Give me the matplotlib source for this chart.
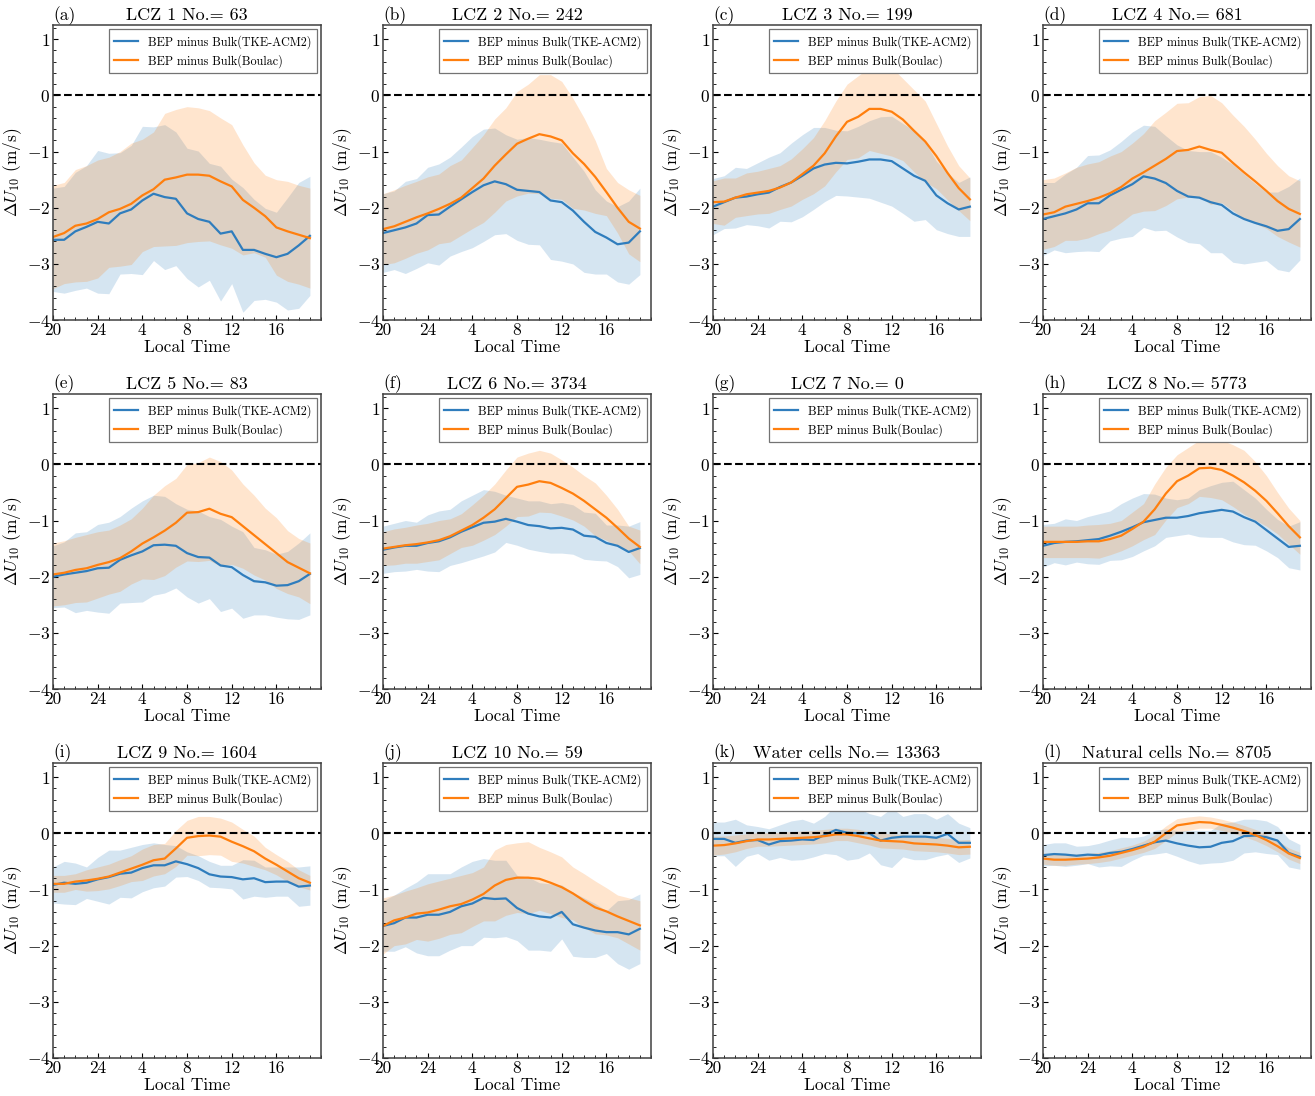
import numpy as np
import matplotlib
matplotlib.use("Agg")
import matplotlib.pyplot as plt
from matplotlib.ticker import MultipleLocator, FixedLocator

plt.rcParams.update({
    "font.family": "serif",
    "font.serif": ["cmr10"],
    "mathtext.fontset": "cm",
    "axes.formatter.use_mathtext": True,
})

# hourly local time, 20 LT through 19 LT next day
hours = list(range(20, 44))
tick_pos = [20, 24, 28, 32, 36, 40]
tick_labels = ["20", "24", "4", "8", "12", "16"]

panel_tags = ["(a)", "(b)", "(c)", "(d)", "(e)", "(f)", "(g)", "(h)", "(i)", "(j)", "(k)", "(l)"]
panel_names = ["LCZ 1", "LCZ 2", "LCZ 3", "LCZ 4", "LCZ 5", "LCZ 6", "LCZ 7", "LCZ 8",
               "LCZ 9", "LCZ 10", "Water cells", "Natural cells"]
cell_counts = [63, 242, 199, 681, 83, 3734, 0, 5773, 1604, 59, 13363, 8705]

# BEP minus Bulk (TKE-ACM2): mean and spread per panel
acm2_mean = [
    [-2.57, -2.57, -2.42, -2.34, -2.25, -2.28, -2.10, -2.03, -1.87, -1.75, -1.81, -1.84, -2.10, -2.20, -2.25, -2.46, -2.42, -2.75, -2.75, -2.82, -2.88, -2.82, -2.67, -2.50],
    [-2.45, -2.40, -2.35, -2.28, -2.13, -2.12, -1.98, -1.85, -1.72, -1.60, -1.53, -1.58, -1.68, -1.70, -1.72, -1.87, -1.90, -2.05, -2.25, -2.43, -2.53, -2.65, -2.62, -2.42],
    [-1.98, -1.90, -1.82, -1.80, -1.76, -1.73, -1.63, -1.55, -1.43, -1.30, -1.23, -1.20, -1.21, -1.18, -1.14, -1.14, -1.17, -1.30, -1.43, -1.52, -1.78, -1.92, -2.03, -1.98],
    [-2.20, -2.15, -2.10, -2.03, -1.92, -1.92, -1.78, -1.68, -1.58, -1.44, -1.48, -1.56, -1.70, -1.80, -1.82, -1.90, -1.95, -2.10, -2.20, -2.27, -2.33, -2.41, -2.38, -2.20],
    [-2.00, -1.96, -1.93, -1.90, -1.85, -1.84, -1.70, -1.62, -1.55, -1.44, -1.43, -1.45, -1.58, -1.65, -1.66, -1.80, -1.83, -1.97, -2.08, -2.10, -2.16, -2.15, -2.08, -1.95],
    [-1.52, -1.48, -1.45, -1.45, -1.40, -1.37, -1.30, -1.20, -1.12, -1.04, -1.02, -0.97, -1.02, -1.08, -1.10, -1.14, -1.13, -1.16, -1.27, -1.29, -1.40, -1.45, -1.56, -1.49],
    [],
    [-1.45, -1.40, -1.38, -1.37, -1.35, -1.33, -1.27, -1.20, -1.12, -1.03, -0.99, -0.95, -0.95, -0.92, -0.87, -0.84, -0.81, -0.84, -0.94, -1.02, -1.17, -1.32, -1.47, -1.45],
    [-0.92, -0.88, -0.90, -0.88, -0.82, -0.78, -0.72, -0.70, -0.62, -0.57, -0.57, -0.50, -0.55, -0.62, -0.73, -0.77, -0.78, -0.82, -0.80, -0.87, -0.86, -0.86, -0.95, -0.93],
    [-1.65, -1.60, -1.50, -1.50, -1.45, -1.45, -1.40, -1.30, -1.25, -1.15, -1.17, -1.16, -1.33, -1.43, -1.48, -1.50, -1.40, -1.62, -1.68, -1.73, -1.76, -1.76, -1.80, -1.70],
    [-0.10, -0.10, -0.17, -0.13, -0.12, -0.20, -0.14, -0.13, -0.11, -0.12, -0.03, 0.06, 0.01, 0.00, 0.00, -0.13, -0.08, -0.06, -0.06, -0.06, -0.08, -0.01, -0.17, -0.17],
    [-0.39, -0.37, -0.38, -0.40, -0.38, -0.39, -0.35, -0.33, -0.28, -0.22, -0.16, -0.13, -0.18, -0.22, -0.25, -0.24, -0.17, -0.14, -0.05, -0.04, -0.07, -0.13, -0.35, -0.42],
]
acm2_std = [
    [0.92, 0.95, 1.05, 1.09, 1.27, 1.25, 1.08, 1.14, 1.32, 1.19, 1.29, 1.19, 1.16, 1.21, 1.04, 1.20, 0.93, 1.11, 0.90, 0.81, 0.80, 1.00, 1.12, 1.06],
    [0.70, 0.70, 0.82, 0.80, 0.85, 0.90, 0.88, 0.93, 0.99, 1.00, 0.95, 0.88, 0.90, 0.95, 0.94, 1.05, 1.05, 0.95, 0.90, 0.75, 0.65, 0.67, 0.74, 0.77],
    [0.50, 0.47, 0.54, 0.50, 0.56, 0.63, 0.61, 0.70, 0.73, 0.73, 0.66, 0.58, 0.58, 0.63, 0.69, 0.76, 0.80, 0.80, 0.81, 0.69, 0.61, 0.54, 0.48, 0.53],
    [0.65, 0.60, 0.70, 0.75, 0.85, 0.86, 0.81, 0.86, 0.93, 0.91, 0.93, 0.84, 0.82, 0.82, 0.82, 0.90, 0.85, 0.87, 0.80, 0.70, 0.61, 0.69, 0.76, 0.73],
    [0.55, 0.58, 0.71, 0.70, 0.78, 0.81, 0.77, 0.84, 0.90, 0.89, 0.86, 0.75, 0.78, 0.82, 0.73, 0.82, 0.73, 0.77, 0.60, 0.58, 0.56, 0.60, 0.68, 0.73],
    [0.42, 0.43, 0.45, 0.42, 0.50, 0.54, 0.50, 0.55, 0.57, 0.59, 0.54, 0.42, 0.42, 0.43, 0.45, 0.44, 0.45, 0.44, 0.42, 0.42, 0.32, 0.37, 0.46, 0.47],
    [],
    [0.38, 0.35, 0.41, 0.37, 0.42, 0.45, 0.44, 0.50, 0.52, 0.51, 0.46, 0.35, 0.32, 0.32, 0.42, 0.46, 0.49, 0.54, 0.49, 0.42, 0.37, 0.34, 0.37, 0.43],
    [0.32, 0.38, 0.37, 0.28, 0.39, 0.48, 0.42, 0.45, 0.42, 0.40, 0.37, 0.28, 0.22, 0.22, 0.23, 0.20, 0.21, 0.35, 0.32, 0.27, 0.26, 0.26, 0.35, 0.35],
    [0.45, 0.50, 0.52, 0.63, 0.73, 0.73, 0.68, 0.70, 0.75, 0.70, 0.69, 0.68, 0.58, 0.65, 0.60, 0.60, 0.48, 0.57, 0.53, 0.48, 0.38, 0.56, 0.62, 0.62],
    [0.30, 0.30, 0.42, 0.28, 0.24, 0.28, 0.29, 0.35, 0.36, 0.30, 0.33, 0.44, 0.49, 0.45, 0.35, 0.43, 0.53, 0.36, 0.41, 0.41, 0.33, 0.36, 0.35, 0.27],
    [0.19, 0.20, 0.21, 0.17, 0.16, 0.21, 0.23, 0.26, 0.20, 0.17, 0.21, 0.21, 0.23, 0.27, 0.30, 0.29, 0.35, 0.34, 0.30, 0.29, 0.29, 0.25, 0.25, 0.22],
]

# BEP minus Bulk (Boulac): mean and spread per panel
boulac_mean = [
    [-2.52, -2.45, -2.32, -2.28, -2.20, -2.08, -2.02, -1.93, -1.78, -1.67, -1.50, -1.46, -1.41, -1.41, -1.43, -1.53, -1.62, -1.86, -2.00, -2.15, -2.35, -2.42, -2.48, -2.54],
    [-2.38, -2.33, -2.25, -2.17, -2.10, -2.02, -1.93, -1.82, -1.65, -1.48, -1.25, -1.05, -0.86, -0.77, -0.69, -0.73, -0.80, -1.03, -1.22, -1.45, -1.72, -2.00, -2.25, -2.37],
    [-1.90, -1.89, -1.82, -1.76, -1.73, -1.70, -1.64, -1.55, -1.40, -1.25, -1.03, -0.73, -0.47, -0.38, -0.24, -0.24, -0.29, -0.43, -0.63, -0.82, -1.08, -1.38, -1.65, -1.85],
    [-2.12, -2.08, -1.98, -1.93, -1.88, -1.82, -1.74, -1.63, -1.48, -1.37, -1.25, -1.13, -0.99, -0.97, -0.91, -0.97, -1.02, -1.20, -1.37, -1.53, -1.70, -1.88, -2.02, -2.11],
    [-1.96, -1.93, -1.88, -1.85, -1.79, -1.74, -1.67, -1.55, -1.41, -1.30, -1.18, -1.04, -0.86, -0.85, -0.79, -0.88, -0.94, -1.10, -1.26, -1.42, -1.58, -1.74, -1.84, -1.94],
    [-1.50, -1.47, -1.44, -1.42, -1.39, -1.35, -1.28, -1.18, -1.08, -0.95, -0.80, -0.60, -0.40, -0.36, -0.30, -0.33, -0.42, -0.52, -0.65, -0.80, -0.95, -1.13, -1.32, -1.47],
    [],
    [-1.38, -1.38, -1.38, -1.38, -1.37, -1.37, -1.33, -1.27, -1.15, -1.02, -0.80, -0.52, -0.30, -0.20, -0.07, -0.06, -0.10, -0.20, -0.32, -0.47, -0.65, -0.87, -1.10, -1.30],
    [-0.90, -0.90, -0.86, -0.84, -0.81, -0.77, -0.70, -0.63, -0.56, -0.48, -0.45, -0.27, -0.08, -0.05, -0.04, -0.06, -0.15, -0.23, -0.32, -0.45, -0.56, -0.68, -0.80, -0.88],
    [-1.65, -1.55, -1.50, -1.43, -1.41, -1.36, -1.30, -1.26, -1.18, -1.08, -0.93, -0.83, -0.79, -0.79, -0.81, -0.88, -0.96, -1.07, -1.20, -1.32, -1.39, -1.48, -1.56, -1.64],
    [-0.22, -0.21, -0.18, -0.14, -0.11, -0.11, -0.10, -0.09, -0.08, -0.07, -0.05, -0.02, -0.02, -0.05, -0.09, -0.13, -0.14, -0.15, -0.18, -0.19, -0.20, -0.22, -0.25, -0.24],
    [-0.45, -0.47, -0.47, -0.46, -0.45, -0.43, -0.40, -0.35, -0.30, -0.24, -0.15, 0.00, 0.14, 0.17, 0.20, 0.19, 0.15, 0.10, 0.04, -0.03, -0.12, -0.23, -0.36, -0.44],
]
boulac_std = [
    [0.92, 0.90, 1.00, 1.03, 1.05, 0.98, 1.02, 1.08, 1.00, 1.02, 1.18, 1.21, 1.21, 1.19, 1.16, 1.13, 1.10, 0.98, 0.80, 0.73, 0.85, 0.89, 0.88, 0.89],
    [0.63, 0.65, 0.65, 0.64, 0.65, 0.62, 0.68, 0.67, 0.72, 0.78, 0.83, 0.83, 0.93, 0.97, 1.06, 1.10, 1.05, 0.98, 0.82, 0.65, 0.42, 0.45, 0.57, 0.59],
    [0.38, 0.42, 0.35, 0.38, 0.38, 0.40, 0.39, 0.42, 0.45, 0.50, 0.58, 0.63, 0.67, 0.73, 0.74, 0.79, 0.79, 0.73, 0.73, 0.72, 0.58, 0.48, 0.40, 0.38],
    [0.62, 0.61, 0.60, 0.65, 0.66, 0.64, 0.66, 0.63, 0.63, 0.69, 0.80, 0.83, 0.85, 0.84, 0.89, 0.97, 0.89, 0.85, 0.82, 0.75, 0.67, 0.63, 0.59, 0.59],
    [0.56, 0.57, 0.58, 0.60, 0.59, 0.57, 0.59, 0.58, 0.63, 0.75, 0.80, 0.79, 0.86, 0.88, 0.92, 0.93, 0.84, 0.75, 0.71, 0.64, 0.63, 0.56, 0.52, 0.54],
    [0.30, 0.32, 0.32, 0.34, 0.34, 0.35, 0.31, 0.30, 0.36, 0.40, 0.45, 0.50, 0.53, 0.56, 0.55, 0.53, 0.50, 0.47, 0.45, 0.47, 0.40, 0.33, 0.22, 0.30],
    [],
    [0.28, 0.28, 0.28, 0.28, 0.29, 0.30, 0.28, 0.27, 0.30, 0.32, 0.45, 0.47, 0.47, 0.50, 0.50, 0.53, 0.53, 0.55, 0.57, 0.52, 0.45, 0.37, 0.32, 0.30],
    [0.15, 0.15, 0.14, 0.19, 0.21, 0.22, 0.23, 0.23, 0.28, 0.28, 0.27, 0.32, 0.31, 0.35, 0.34, 0.33, 0.35, 0.30, 0.27, 0.20, 0.18, 0.18, 0.15, 0.13],
    [0.50, 0.45, 0.47, 0.46, 0.51, 0.51, 0.50, 0.51, 0.48, 0.48, 0.63, 0.63, 0.62, 0.64, 0.56, 0.55, 0.54, 0.47, 0.48, 0.47, 0.42, 0.38, 0.41, 0.44],
    [0.17, 0.16, 0.15, 0.13, 0.12, 0.12, 0.12, 0.12, 0.12, 0.12, 0.12, 0.11, 0.11, 0.12, 0.12, 0.13, 0.13, 0.13, 0.13, 0.13, 0.13, 0.13, 0.13, 0.13],
    [0.10, 0.10, 0.10, 0.09, 0.09, 0.09, 0.09, 0.09, 0.09, 0.10, 0.12, 0.13, 0.12, 0.12, 0.11, 0.10, 0.10, 0.10, 0.10, 0.10, 0.10, 0.10, 0.10, 0.10],
]

c_acm2 = "#2f7dbd"
c_boulac = "#ff7f0e"

fig, axes = plt.subplots(3, 4, figsize=(13.15, 10.96), dpi=100)
fig.subplots_adjust(left=0.0403, right=0.997, top=0.977, bottom=0.0347,
                    wspace=0.231, hspace=0.251)

for i, ax in enumerate(axes.flat):
    series = [
        (acm2_mean[i], acm2_std[i], c_acm2, "BEP minus Bulk(TKE-ACM2)"),
        (boulac_mean[i], boulac_std[i], c_boulac, "BEP minus Bulk(Boulac)"),
    ]
    for mean, std, color, label in series:
        if len(mean):
            m = np.array(mean)
            s = np.array(std)
            ax.fill_between(hours, m - s, m + s, color=color, alpha=0.2, lw=0)
            ax.plot(hours, m, color=color, lw=1.6, label=label)
        else:
            ax.plot([], [], color=color, lw=1.6, label=label)

    ax.axhline(0, color="k", ls="--", lw=1.5)

    ax.set_xlim(20, 44)
    ax.set_ylim(-4, 1.25)
    ax.xaxis.set_major_locator(FixedLocator(tick_pos))
    ax.set_xticklabels(tick_labels)
    ax.xaxis.set_minor_locator(MultipleLocator(1))
    ax.yaxis.set_major_locator(MultipleLocator(1))
    ax.yaxis.set_minor_locator(MultipleLocator(0.2))
    ax.tick_params(which="both", direction="in", labelsize=12.5, pad=2)
    ax.tick_params(which="major", length=3.5)
    ax.tick_params(which="minor", length=2)
    for sp in ax.spines.values():
        sp.set_color("0.25")
        sp.set_linewidth(1.1)

    ax.set_xlabel("Local Time", fontsize=12.5, labelpad=1)
    ax.set_ylabel(r"$\Delta U_{10}$ (m/s)", fontsize=12.5, labelpad=2)
    ax.set_title(f"{panel_names[i]} No.= {cell_counts[i]}", fontsize=13, pad=4)
    ax.set_title(panel_tags[i], loc="left", fontsize=12.5, pad=4)

    leg = ax.legend(loc="upper right", fontsize=8.7, fancybox=False,
                    framealpha=1, edgecolor="0.45", handlelength=2.0,
                    borderpad=0.45, labelspacing=0.45, borderaxespad=0.35)
    leg.get_frame().set_linewidth(0.9)

fig.savefig("out.png", dpi=100)
